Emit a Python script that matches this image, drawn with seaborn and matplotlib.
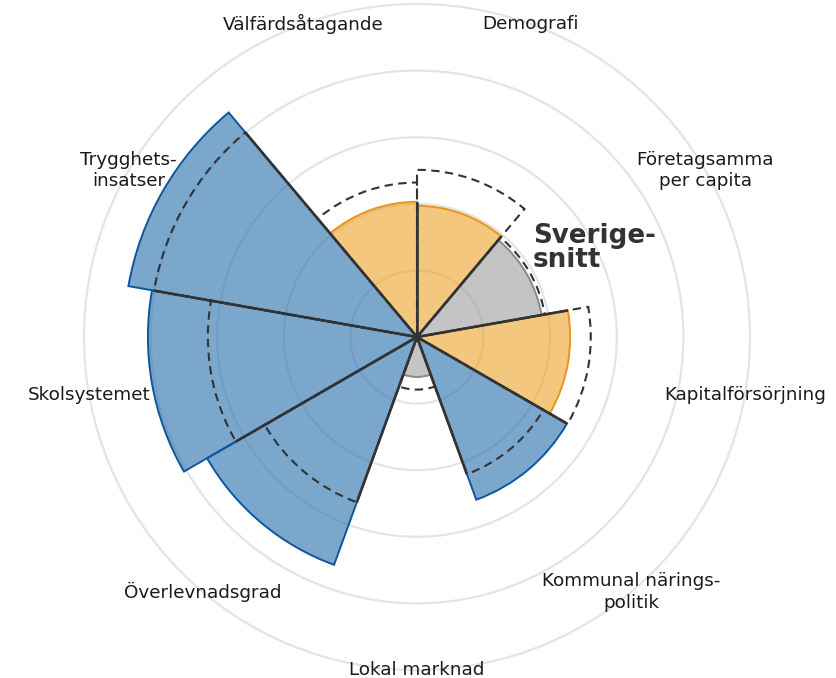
import numpy as np
import matplotlib
matplotlib.use("Agg")
import matplotlib.pyplot as plt
import seaborn as sns

# ---- data ----
categories = ["Demografi", "Företagsamma\nper capita", "Kapitalförsörjning",
              "Kommunal närings-\npolitik", "Lokal marknad", "Överlevnadsgrad",
              "Skolsystemet", "Trygghets-\ninsatser", "Välfärdsåtagande"]
kommun_values = [1.97, 1.90, 2.30, 2.60, 0.60, 3.64, 4.04, 4.40, 2.03]
sverige_snitt = [2.51, 1.95, 2.61, 2.19, 0.79, 2.64, 3.14, 4.01, 2.32]
status = ["below", "equal", "below", "above", "equal", "above", "above", "above", "below"]
grid_values = [1, 2, 3, 4, 5]
annotation_text = "Sverige-\nsnitt"

sns.set_theme(style="white")
plt.rcParams['font.family'] = ['DejaVu Sans']

fill_colors = {"above": "#256cad", "below": "#eba326", "equal": "#9d9d9d"}
edge_colors = {"above": "#0f559c", "below": "#e8951c", "equal": "#8a8a8a"}

n = len(categories)
width = 2 * np.pi / n
theta = np.arange(n) * width + width / 2
rmax = 5
rlim = 5.03
R_px = 333 * rlim / rmax

fig = plt.figure(figsize=(8.36, 6.78), dpi=100)
cx, cy = 417, 337
ax = fig.add_axes([(cx - R_px) / 836, (678 - cy - R_px) / 678,
                   2 * R_px / 836, 2 * R_px / 678], projection="polar")
ax.set_theta_zero_location("N")
ax.set_theta_direction(-1)
ax.set_ylim(0, rlim)
ax.set_xticks([])
ax.set_rgrids(grid_values, labels=[""] * len(grid_values))
ax.set_axisbelow(True)
ax.yaxis.grid(True, color="#e4e4e4", lw=1.6)
ax.xaxis.grid(False)
ax.spines["polar"].set_visible(False)
ax.set_facecolor("white")

# labels (under the bars)
for t, lab in zip(theta, categories):
    ax.text(t, rmax, lab, ha="center", va="center", fontsize=13.2,
            color="#1a1a1a", linespacing=1.26, zorder=0.8)

# bars
for t, v, s in zip(theta, kommun_values, status):
    ax.bar(t, v, width=width, bottom=0, color=fill_colors[s], alpha=0.6,
           edgecolor="none", zorder=2)
    ax.bar(t, v, width=width, bottom=0, color="none",
           edgecolor=edge_colors[s], linewidth=1.4, zorder=2.1)

# Sverige-snitt dashed outlines
for t, d in zip(theta, sverige_snitt):
    ax.bar(t, d, width=width, bottom=0, color="none", edgecolor="#333333",
           linewidth=1.5, linestyle=(0, (4, 2.6)), zorder=3)

# spokes between sectors
for i in range(n):
    j = (i + 1) % n
    edge = theta[i] + width / 2
    length = min(max(sverige_snitt[i], sverige_snitt[j]),
                 max(kommun_values[i], kommun_values[j]))
    ax.plot([edge, edge], [0, length], color="#333333", lw=1.9,
            solid_capstyle="butt", zorder=4)

fig.text(533 / 836, 1 - 248 / 678, annotation_text, ha="left", va="center",
         fontsize=18.8, fontweight="bold", color="#333333", linespacing=0.92)

fig.savefig("out.png", dpi=100, facecolor="white")
